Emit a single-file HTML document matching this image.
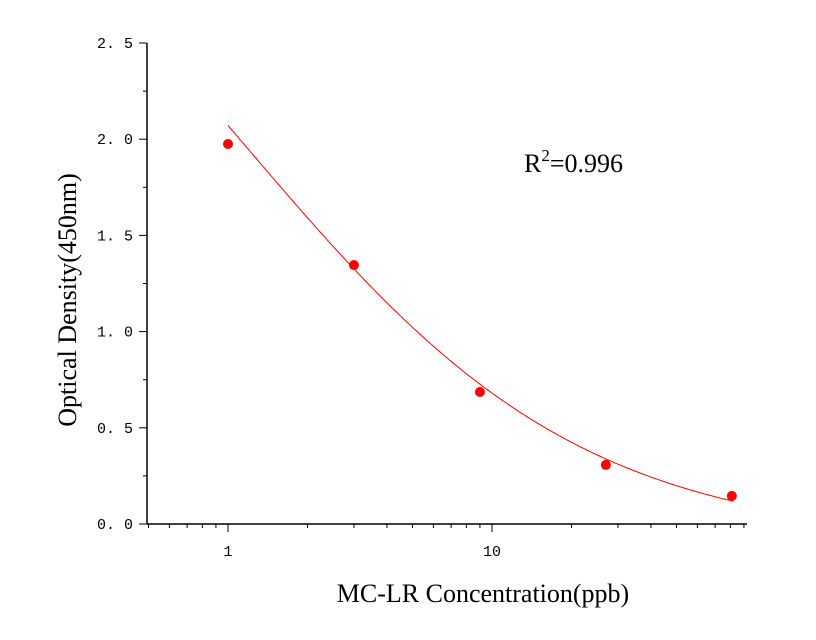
<!DOCTYPE html>
<html><head><meta charset="utf-8"><style>
html,body{margin:0;padding:0;background:#fff;}
svg{display:block;}
.t{font-family:"Liberation Mono",monospace;font-size:15px;fill:#000;}
.lab{font-family:"Liberation Serif",serif;font-size:26px;fill:#000;}
</style></head><body>
<svg id="chart" width="816" height="640" xmlns="http://www.w3.org/2000/svg"></svg>
<script>
const concentrations = [1, 3, 9, 27, 81];
const odValues = [1.975, 1.346, 0.686, 0.307, 0.146];
const fitParams = [4.0, 0.68, 1.19, -0.1]; // 4PL: A, B, C, D
const yTickLabels = ["0. 0","0. 5","1. 0","1. 5","2. 0","2. 5"];
const yTickValues = [0,0.5,1,1.5,2,2.5];
const xTickValues = [1,10];
const xTickLabels = ["1","10"];

const NS="http://www.w3.org/2000/svg";
const svg=document.getElementById('chart');
const X0=228, DEC=264, Y0=524, YS=192.4;
const xs=v=>X0+Math.log10(v)*DEC;
const ys=v=>Y0-v*YS;
function mk(tag,attrs){const e=document.createElementNS(NS,tag);for(const k in attrs)e.setAttribute(k,attrs[k]);svg.appendChild(e);return e;}

let e;
e=mk('line',{x1:147,y1:43,x2:147,y2:Y0,stroke:'#000','stroke-width':1.5});


e=mk('line',{x1:147,y1:Y0,x2:747,y2:Y0,stroke:'#000','stroke-width':1.5});



yTickValues.forEach((v,i)=>{
  e=mk('line',{x1:139,y1:ys(v),x2:147,y2:ys(v),stroke:'#000','stroke-width':1});
  
  
  if(i<yTickValues.length-1){
    e=mk('line',{x1:143,y1:ys(v+0.25),x2:147,y2:ys(v+0.25),stroke:'#000','stroke-width':1});
    
    
  }
  e=mk('text',{x:133,y:ys(v)+5,'text-anchor':'end',class:'t'});
  e.textContent=yTickLabels[i];
  
  
});
for(let d of [0.1,1,10]){
  for(let m=1;m<10;m++){
    const v=d*m; if(v<0.5||v>95) continue;
    const major=(m===1);
    e=mk('line',{x1:xs(v),y1:Y0,x2:xs(v),y2:Y0+(major?8:4),stroke:'#000','stroke-width':1});
    
    
  }
}
xTickValues.forEach((v,i)=>{
  e=mk('text',{x:xs(v),y:556,'text-anchor':'middle',class:'t'});
  e.textContent=xTickLabels[i];
  
  
});

const [A,B,C,D]=fitParams;
const f=x=>D+(A-D)/(1+Math.pow(x/C,B));
let pts=[];
for(let i=0;i<=200;i++){const lx=i/200*Math.log10(82);const x=Math.pow(10,lx);pts.push(xs(x).toFixed(1)+','+ys(f(x)).toFixed(1));}
e=mk('polyline',{points:pts.join(' '),fill:'none',stroke:'#ff0000','stroke-width':1});



concentrations.forEach((c,i)=>{
  e=mk('circle',{cx:xs(c),cy:ys(odValues[i]),r:5,fill:'#ff0000'});
  
  
});

e=mk('text',{x:524,y:172,class:'lab','font-size':'28'});
e.innerHTML='R<tspan dy="-11" font-size="17">2</tspan><tspan dy="11">=0.996</tspan>';



e=mk('text',{x:483,y:602,'text-anchor':'middle',class:'lab'});
e.textContent='MC-LR Concentration(ppb)';



e=mk('text',{x:0,y:0,'text-anchor':'middle',class:'lab',transform:'translate(76,300) rotate(-90)'});
e.textContent='Optical Density(450nm)';


</script>
</body></html>
